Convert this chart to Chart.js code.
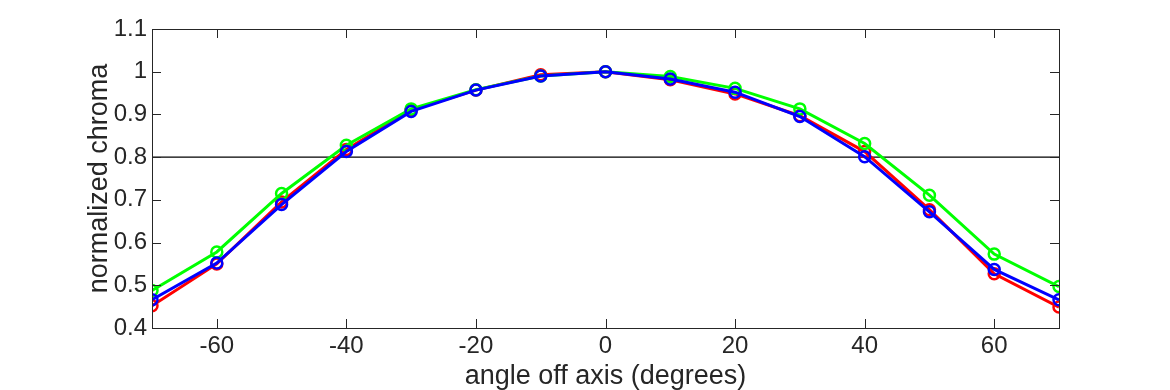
<!DOCTYPE html>
<html>
<head>
<meta charset="utf-8">
<script src="https://cdn.jsdelivr.net/npm/chart.js@4/dist/chart.umd.min.js"></script>
<style>
  html, body { margin: 0; padding: 0; background: #fff; }
  #wrap { width: 1170px; height: 390px; }
</style>
</head>
<body>
<div id="wrap"><canvas id="myChart" width="1170" height="390"></canvas></div>
<script>
// angles (degrees)
const angles = [-70, -60, -50, -40, -30, -20, -10, 0, 10, 20, 30, 40, 50, 60, 70];
// normalized chroma per channel
const redValues   = [0.452, 0.550, 0.695, 0.818, 0.910, 0.957, 0.993, 1.0, 0.981, 0.948, 0.897, 0.813, 0.677, 0.527, 0.449];
const greenValues = [0.488, 0.578, 0.715, 0.828, 0.913, 0.958, 0.990, 1.0, 0.989, 0.961, 0.913, 0.832, 0.711, 0.573, 0.497];
const blueValues  = [0.466, 0.552, 0.689, 0.813, 0.907, 0.957, 0.990, 1.0, 0.983, 0.952, 0.895, 0.801, 0.672, 0.537, 0.466];
// reference line
const refX = [-70, 70];
const refY = 0.8;

const xTicks = [-60, -40, -20, 0, 20, 40, 60];
const yTicks = [0.4, 0.5, 0.6, 0.7, 0.8, 0.9, 1.0, 1.1];

const textColor = '#262626';
const fontFamily = '"Liberation Sans", Arial, Helvetica, sans-serif';

function toPoints(values) {
  return angles.map((a, i) => ({ x: a, y: values[i] }));
}

function series(label, values, color) {
  return {
    label: label,
    data: toPoints(values),
    borderColor: color,
    backgroundColor: color,
    borderWidth: 3,
    pointRadius: 5.5,
    pointBorderWidth: 2.5,
    pointBackgroundColor: 'rgba(0,0,0,0)',
    pointBorderColor: color,
    tension: 0
  };
}

// frame + inward ticks on all four sides
const framePlugin = {
  id: 'frame',
  afterDraw(chart) {
    const ctx = chart.ctx;
    const area = chart.chartArea;
    const xs = chart.scales.x;
    const ys = chart.scales.y;
    const len = 9;
    ctx.save();
    ctx.strokeStyle = '#262626';
    ctx.lineWidth = 1;
    ctx.strokeRect(area.left + 0.5, area.top + 0.5, area.right - area.left, area.bottom - area.top);
    ctx.beginPath();
    xTicks.forEach(v => {
      const px = Math.round(xs.getPixelForValue(v)) + 0.5;
      ctx.moveTo(px, area.bottom);
      ctx.lineTo(px, area.bottom - len);
      ctx.moveTo(px, area.top);
      ctx.lineTo(px, area.top + len);
    });
    yTicks.forEach(v => {
      const py = Math.round(ys.getPixelForValue(v)) + 0.5;
      ctx.moveTo(area.left, py);
      ctx.lineTo(area.left + len, py);
      ctx.moveTo(area.right, py);
      ctx.lineTo(area.right - len, py);
    });
    ctx.stroke();
    ctx.restore();
  }
};

new Chart('myChart', {
  type: 'line',
  data: {
    datasets: [
      {
        label: 'ref',
        data: refX.map(x => ({ x: x, y: refY })),
        borderColor: '#000',
        borderWidth: 1.2,
        pointRadius: 0,
        order: 4
      },
      Object.assign(series('red', redValues, '#ff0000'), { order: 3 }),
      Object.assign(series('green', greenValues, '#00ff00'), { order: 2 }),
      Object.assign(series('blue', blueValues, '#0000ff'), { order: 1 })
    ]
  },
  options: {
    responsive: false,
    animation: false,
    layout: { padding: { left: 0, right: 111, top: 29, bottom: 0 } },
    plugins: { legend: { display: false }, tooltip: { enabled: false } },
    scales: {
      x: {
        type: 'linear',
        min: -70,
        max: 70,
        afterBuildTicks(scale) { scale.ticks = xTicks.map(v => ({ value: v })); },
        afterFit(scale) { scale.height = 62; },
        grid: { display: false, drawTicks: false },
        border: { display: false },
        ticks: {
          color: textColor,
          font: { family: fontFamily, size: 24 },
          padding: 4,
          maxRotation: 0,
          autoSkip: false
        },
        title: {
          display: true,
          text: 'angle off axis (degrees)',
          color: textColor,
          font: { family: fontFamily, size: 27, lineHeight: 1 },
          padding: { top: 0, bottom: 0 }
        }
      },
      y: {
        min: 0.4,
        max: 1.1,
        afterBuildTicks(scale) { scale.ticks = yTicks.map(v => ({ value: v })); },
        afterFit(scale) { scale.width = 152; },
        grid: { display: false, drawTicks: false },
        border: { display: false },
        ticks: {
          color: textColor,
          font: { family: fontFamily, size: 24 },
          padding: 5,
          autoSkip: false,
          callback: v => String(Number(v.toFixed(1)))
        },
        title: {
          display: true,
          text: 'normalized chroma',
          color: textColor,
          font: { family: fontFamily, size: 27, lineHeight: 1 },
          padding: { top: 86, bottom: 0 }
        }
      }
    }
  },
  plugins: [framePlugin]
});
</script>
</body>
</html>
